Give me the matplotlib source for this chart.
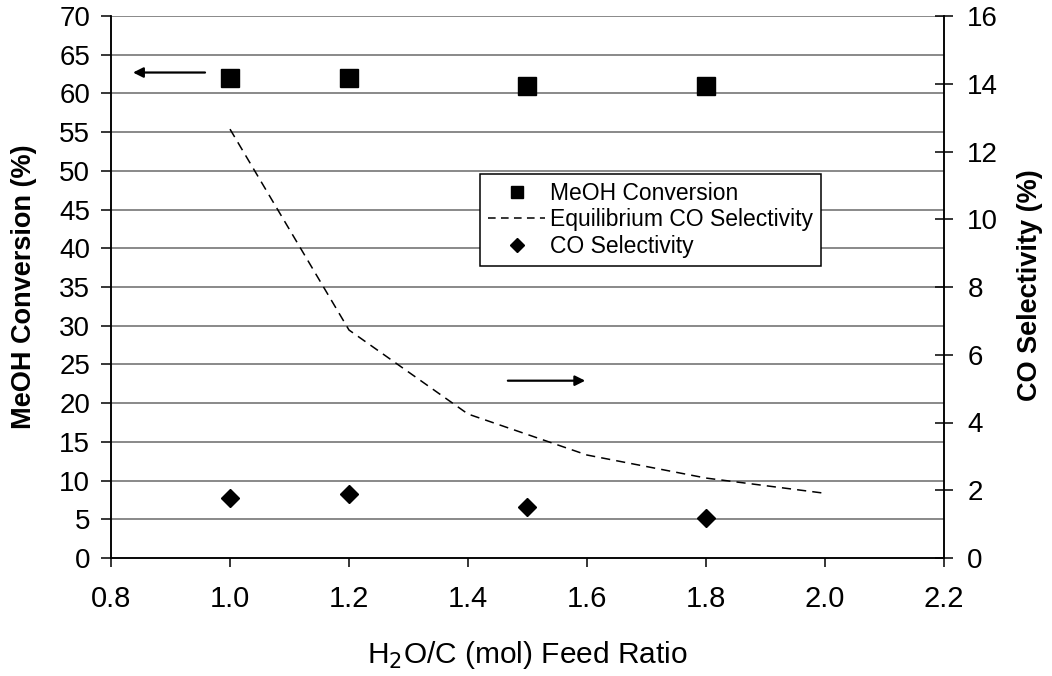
import matplotlib
matplotlib.use("Agg")
import matplotlib.pyplot as plt
from matplotlib.lines import Line2D

plt.rcParams['font.family'] = ['Liberation Sans', 'DejaVu Sans']

# ---- data ----
feed_ratio = [1.0, 1.2, 1.5, 1.8]
meoh_conversion = [62.0, 62.0, 61.0, 61.0]
co_selectivity = [1.78, 1.89, 1.50, 1.17]

eq_ratio = [1.0, 1.2, 1.4, 1.6, 1.8, 2.0]
eq_co_selectivity = [12.66, 6.73, 4.25, 3.04, 2.36, 1.91]

x_ticks = [0.8, 1.0, 1.2, 1.4, 1.6, 1.8, 2.0, 2.2]
left_ticks = list(range(0, 71, 5))
right_ticks = list(range(0, 17, 2))

W, H = 1052, 676
fig = plt.figure(figsize=(W / 100, H / 100), dpi=100)
L, R, T, B = 111, 944, 16, 558
ax = fig.add_axes([L / W, 1 - B / H, (R - L) / W, (B - T) / H])
ax2 = ax.twinx()

ax.set_xlim(0.8, 2.2)
ax.set_ylim(0, 70)
ax2.set_ylim(0, 16)
ax.set_xticks(x_ticks)
ax.set_xticklabels([f"{v:.1f}" for v in x_ticks])
ax.set_yticks(left_ticks)
ax2.set_yticks(right_ticks)

# gridlines
for v in left_ticks[1:]:
    ax.axhline(v, color='#6a6a6a', lw=1.1, zorder=0.5)

for a in (ax, ax2):
    a.spines['top'].set_visible(False)
    for s in ('left', 'right', 'bottom'):
        a.spines[s].set_linewidth(1.1)
        a.spines[s].set_color('black')

ax.tick_params(axis='y', direction='out', length=7, width=1.1, pad=8, labelsize=20)
ax.tick_params(axis='x', direction='out', length=6.5, width=1.1, pad=13, labelsize=21)
ax2.tick_params(axis='y', direction='inout', length=13.5, width=1.1, pad=10, labelsize=20)

ax.plot(feed_ratio, meoh_conversion, linestyle='none', marker='s', markersize=12.5,
        color='black', zorder=3)
ax2.plot(eq_ratio, eq_co_selectivity, linestyle=(0, (6, 4)), color='black', lw=1.1, zorder=3)
ax2.plot(feed_ratio, co_selectivity, linestyle='none', marker='D', markersize=9,
         color='black', zorder=3)

# direction arrows
arrowprops = dict(arrowstyle='-|>,head_length=0.6,head_width=0.3', color='black', lw=1.6,
                  shrinkA=0, shrinkB=0)
ax.annotate('', xy=(0.837, 62.7), xytext=(0.958, 62.7), arrowprops=arrowprops, zorder=4)
ax.annotate('', xy=(1.597, 22.9), xytext=(1.467, 22.9), arrowprops=arrowprops, zorder=4)

handles = [
    Line2D([], [], linestyle='none', marker='s', markersize=9, color='black'),
    Line2D([], [], linestyle=(0, (5, 3.5)), color='black', lw=1.1),
    Line2D([], [], linestyle='none', marker='D', markersize=7, color='black'),
]
labels = ['MeOH Conversion', 'Equilibrium CO Selectivity', 'CO Selectivity']
leg = ax2.legend(handles, labels, loc='upper left',
                 bbox_to_anchor=((480 - L) / (R - L), (B - 174) / (B - T)),
                 borderaxespad=0, fontsize=16.5, frameon=True, fancybox=False,
                 handlelength=2.5, handletextpad=0.2, labelspacing=0.15,
                 borderpad=0.35)
leg.get_frame().set_edgecolor('black')
leg.get_frame().set_linewidth(1.1)
leg.get_frame().set_alpha(1)

fig.text((L + R) / 2 / W, 13.3 / H, 'H$_2$O/C (mol) Feed Ratio', ha='center', va='baseline',
         fontsize=21.5)
fig.text(24 / W, 1 - 287 / H, 'MeOH Conversion (%)', rotation=90, ha='center', va='center',
         fontsize=19.5, fontweight='bold')
fig.text(1030 / W, 1 - 285 / H, 'CO Selectivity (%)', rotation=90, ha='center', va='center',
         fontsize=19.5, fontweight='bold')

fig.savefig('out.png', dpi=100)
